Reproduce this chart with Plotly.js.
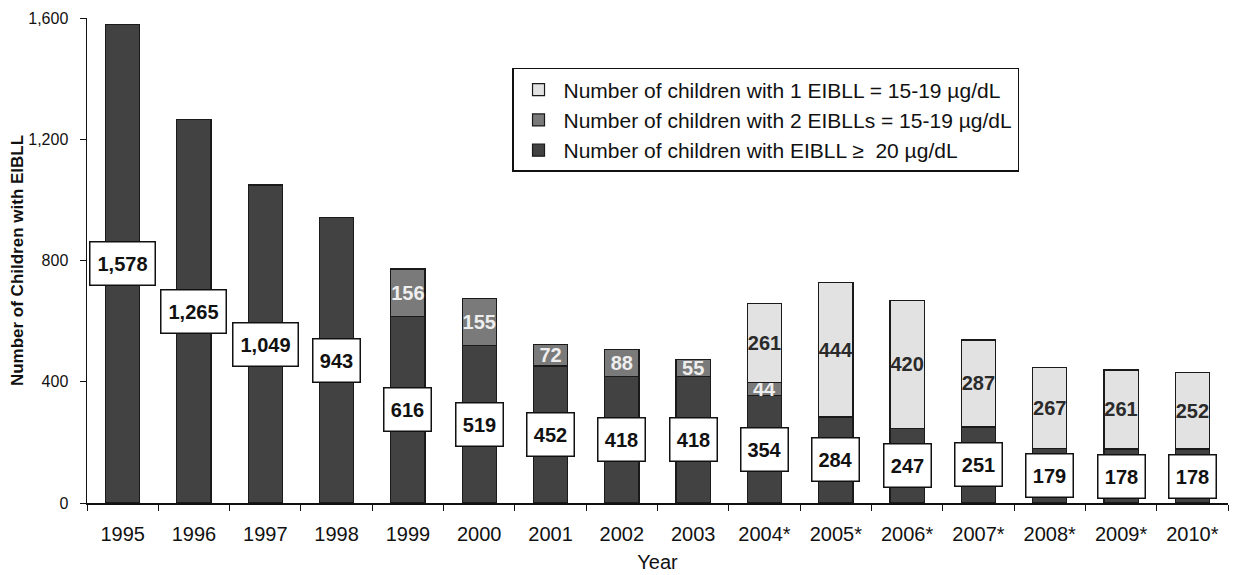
<!DOCTYPE html>
<html>
<head>
<meta charset="utf-8">
<script src="https://cdn.plot.ly/plotly-3.0.1.min.js"></script>
<style>html,body{margin:0;padding:0;background:#fff;}#chart{width:1251px;height:575px;}</style>
</head>
<body>
<div id="chart"></div>
<script>
const years = ["1995","1996","1997","1998","1999","2000","2001","2002","2003","2004*","2005*","2006*","2007*","2008*","2009*","2010*"];
const ge20 = [1578,1265,1049,943,616,519,452,418,418,354,284,247,251,179,178,178];
const two1519 = [null,null,null,null,156,155,72,88,55,44,null,null,null,null,null,null];
const one1519 = [null,null,null,null,null,null,null,null,null,261,444,420,287,267,261,252];
const names = [
  "Number of children with EIBLL \u2265  20 \u00b5g/dL",
  "Number of children with 2 EIBLLs = 15-19 \u00b5g/dL",
  "Number of children with 1 EIBLL = 15-19 \u00b5g/dL"
];

const fmt = v => v.toLocaleString("en-US");
const lineCol = "#1a1a1a";
const FONT = "Arial, Liberation Sans, sans-serif";
const traces = [
  {type:"bar", x:years, y:ge20, name:names[0], legendgroup:"a",
   marker:{color:"#424242", line:{color:lineCol, width:1.2}}, hoverinfo:"y"},
  {type:"bar", x:years, y:two1519, name:names[1], legendgroup:"b",
   marker:{color:"#7a7a7a", line:{color:lineCol, width:1.2}},
   text:two1519.map(v => v==null ? "" : String(v)), texttemplate:"%{text}",
   textposition:"inside", insidetextanchor:"middle", textangle:0, constraintext:"none",
   insidetextfont:{family:FONT, size:20, color:"#eeeeee", weight:"bold"}},
  {type:"bar", x:years, y:one1519, name:names[2], legendgroup:"c",
   marker:{color:"#e2e2e2", line:{color:lineCol, width:1.2}},
   text:one1519.map(v => v==null ? "" : String(v)), texttemplate:"%{text}",
   textposition:"inside", insidetextanchor:"middle", textangle:0, constraintext:"none",
   insidetextfont:{family:FONT, size:20, color:"#2a2a2a", weight:"bold"}}
];

const annotations = years.map((yr,i) => {
  const t = fmt(ge20[i]);
  return {x:i, y:ge20[i]/2, xref:"x", yref:"y", text:"<b>"+t+"</b>", showarrow:false,
    font:{family:FONT, size:20, color:"#111"},
    bgcolor:"#ffffff", bordercolor:"#111", borderwidth:1.5, borderpad:3,
    width: t.length > 3 ? 58 : 40, height:36, align:"center", valign:"middle"};
});

const layout = {
  width:1251, height:575,
  margin:{l:87, r:23, t:18, b:72},
  paper_bgcolor:"#fff", plot_bgcolor:"#fff",
  barmode:"stack", bargap:0.52,
  font:{family:FONT, color:"#111"},
  xaxis:{type:"category", range:[-0.5, years.length-0.5], autorange:false,
    showline:true, linecolor:"#111", linewidth:1.5,
    ticks:"outside", tickson:"boundaries", ticklen:6, tickcolor:"#111",
    tickfont:{size:20, color:"#111"}, tickangle:0, ticklabelstandoff:12,
    title:{text:"Year", font:{size:20, color:"#111"}, standoff:11},
    showgrid:false, zeroline:false},
  yaxis:{range:[0,1600], autorange:false, tickvals:[0,400,800,1200,1600], tickformat:",d",
    showline:true, linecolor:"#111", linewidth:1.5, ticks:"outside", ticklen:6, tickcolor:"#111",
    tickfont:{size:16, color:"#111"}, ticklabelstandoff:8, showgrid:false, zeroline:false,
    title:{text:"<b>Number of Children with EIBLL</b>", font:{size:17, color:"#111"}, standoff:0}},
  legend:{x:0.3725, y:0.897, xanchor:"left", yanchor:"top", traceorder:"reversed",
    bgcolor:"#fff", bordercolor:"#111", borderwidth:1.5,
    font:{size:21, color:"#111"}, itemwidth:40, tracegroupgap:16},
  annotations:annotations,
  showlegend:true
};

Plotly.newPlot("chart", traces, layout, {displayModeBar:false, staticPlot:true});
</script>
</body>
</html>
